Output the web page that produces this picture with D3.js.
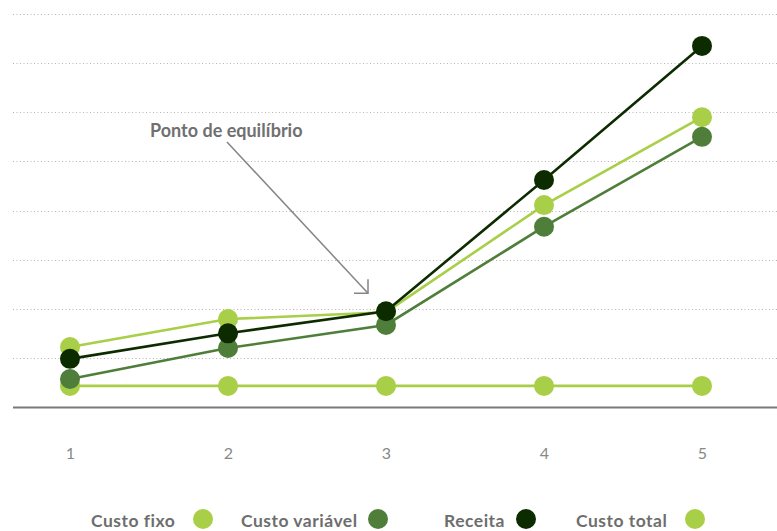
<!DOCTYPE html>
<html>
<head>
<meta charset="utf-8">
<script src="https://cdn.jsdelivr.net/npm/d3@7"></script>
<style>
  html, body { margin: 0; padding: 0; background: #fff; }
  svg { display: block; }
</style>
</head>
<body>
<svg id="chart" width="777" height="531"></svg>
<script>
// ---- data ----
const categories = ["1", "2", "3", "4", "5"];
const custoFixo     = [0.43, 0.43, 0.43, 0.43, 0.43];
const custoVariavel = [0.57, 1.20, 1.67, 3.67, 5.50];
const receita       = [0.98, 1.50, 1.95, 4.62, 7.35];
const custoTotal    = [1.22, 1.79, 1.93, 4.11, 5.90];
const yTicks = [1, 2, 3, 4, 5, 6, 7, 8];
const seriesNames = ["Custo fixo", "Custo variável", "Receita", "Custo total"];
const annotationText = "Ponto de equilíbrio";

// ---- styling ----
const colors = {
  "Custo fixo": "#a8cf47",
  "Custo variável": "#4f7e3a",
  "Receita": "#0c2c00",
  "Custo total": "#a8cf47"
};
const valuesByName = {
  "Custo fixo": custoFixo,
  "Custo variável": custoVariavel,
  "Receita": receita,
  "Custo total": custoTotal
};
const drawOrder = ["Custo fixo", "Custo total", "Custo variável", "Receita"];

const svg = d3.select("#chart");
const x = d3.scalePoint().domain(categories).range([70, 702]);
const y = d3.scaleLinear().domain([0, 8]).range([407, 14]);

// gridlines
svg.append("g").selectAll("line").data(yTicks).join("line")
  .attr("x1", 13).attr("x2", 777)
  .attr("y1", d => Math.round(y(d)) + 0.5).attr("y2", d => Math.round(y(d)) + 0.5)
  .attr("stroke", "#b5b5b5").attr("stroke-width", 1)
  .attr("stroke-dasharray", "1,2.5");

// baseline
svg.append("line")
  .attr("x1", 13).attr("x2", 777)
  .attr("y1", y(0) + 0.5).attr("y2", y(0) + 0.5)
  .attr("stroke", "#7a7a7a").attr("stroke-width", 2);

// x axis labels
const xAxis = d3.axisBottom(x).tickSize(0).tickPadding(0);
const gx = svg.append("g").attr("transform", "translate(0,459)").call(xAxis);
gx.select(".domain").remove();
gx.selectAll("text")
  .attr("dy", 0)
  .attr("font-family", "Lato, 'Open Sans', sans-serif")
  .attr("font-weight", 400)
  .attr("font-size", 16)
  .attr("fill", "#888888");

// series
const line = d3.line().x((d, i) => x(categories[i])).y(d => y(d));
drawOrder.forEach(name => {
  const vals = valuesByName[name];
  const g = svg.append("g");
  g.append("path").datum(vals)
    .attr("d", line)
    .attr("fill", "none")
    .attr("stroke", colors[name])
    .attr("stroke-width", 2.6);
  g.selectAll("circle").data(vals).join("circle")
    .attr("cx", (d, i) => x(categories[i]))
    .attr("cy", d => y(d))
    .attr("r", 10)
    .attr("fill", colors[name]);
});

// annotation
const ann = svg.append("g");
ann.append("text")
  .attr("x", 150).attr("y", 137)
  .attr("font-family", "Lato, 'Open Sans', sans-serif")
  .attr("font-weight", 700)
  .attr("font-size", 18)
  .attr("fill", "#707070")
  .text(annotationText);
const ax2 = x("3") - 18, ay2 = y(receita[2]) - 18;
ann.append("line")
  .attr("x1", 227).attr("y1", 142).attr("x2", ax2).attr("y2", ay2)
  .attr("stroke", "#858585").attr("stroke-width", 1.5);
ann.append("path")
  .attr("d", `M${ax2 - 14},${ay2} L${ax2},${ay2} L${ax2},${ay2 - 14}`)
  .attr("fill", "none")
  .attr("stroke", "#858585").attr("stroke-width", 1.5);

// legend
const legendText = [91, 241, 444, 576];
const legendDot = [203, 378, 526, 695];
const lg = svg.append("g");
seriesNames.forEach((name, i) => {
  lg.append("text")
    .attr("x", legendText[i]).attr("y", 527)
    .attr("font-family", "Lato, 'Open Sans', sans-serif")
    .attr("font-weight", 700)
    .attr("font-size", 17.5)
    .attr("letter-spacing", 0.5)
    .attr("fill", "#6e6e6e")
    .text(name);
  lg.append("circle")
    .attr("cx", legendDot[i]).attr("cy", 519).attr("r", 10)
    .attr("fill", colors[name]);
});
</script>
</body>
</html>
